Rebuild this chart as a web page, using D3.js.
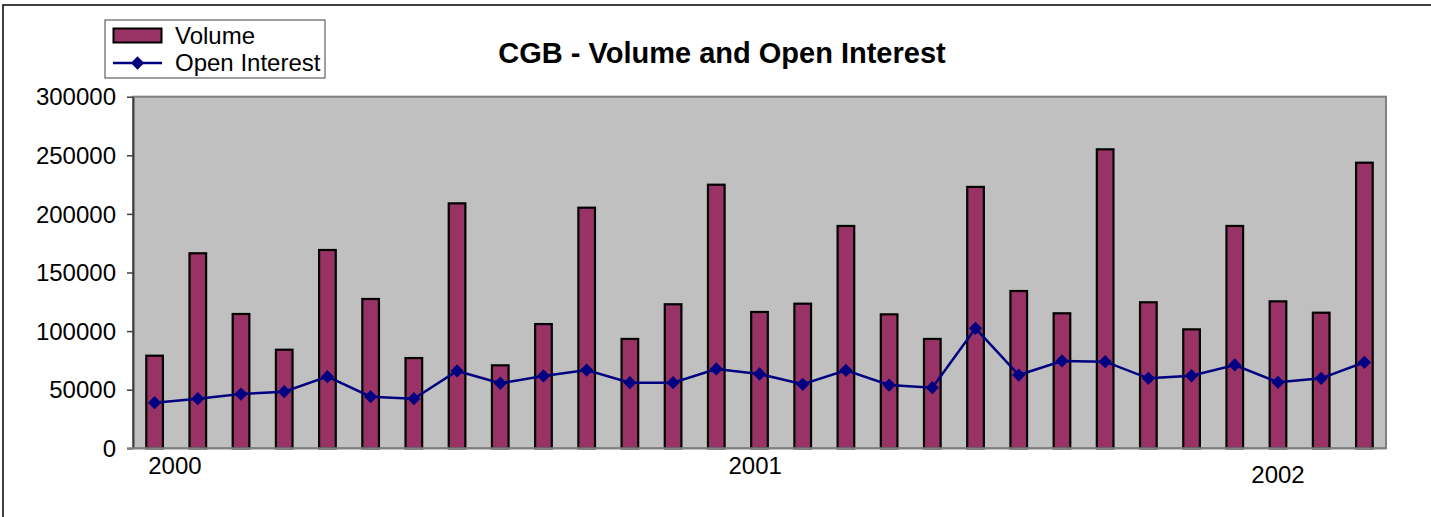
<!DOCTYPE html>
<html>
<head>
<meta charset="utf-8">
<script src="https://cdn.jsdelivr.net/npm/d3@7"></script>
<style>
  html, body { margin: 0; padding: 0; background: #fff; overflow: hidden; }
  svg { display: block; font-family: "Liberation Sans", Arial, sans-serif; }
</style>
</head>
<body>
<svg id="chart" width="1431" height="517"></svg>
<script>
const categories = ["Jan-00","Feb-00","Mar-00","Apr-00","May-00","Jun-00","Jul-00","Aug-00","Sep-00","Oct-00","Nov-00","Dec-00",
  "Jan-01","Feb-01","Mar-01","Apr-01","May-01","Jun-01","Jul-01","Aug-01","Sep-01","Oct-01","Nov-01","Dec-01",
  "Jan-02","Feb-02","Mar-02","Apr-02","May-02"];
const volume = [79000,166400,114600,84100,169200,127400,77000,209000,70800,106000,205300,93300,
  122900,224900,116300,123400,189700,114300,93300,223000,134200,115200,255100,124600,
  101500,189700,125400,115700,243700];
const openInterest = [38900,42300,46300,48300,61100,44000,42300,66000,55500,61700,66800,56000,
  56000,67700,63400,54600,66500,54000,51700,102400,62500,74500,73900,59700,
  61900,71100,56300,59700,73400];
const yTicks = [0,50000,100000,150000,200000,250000,300000];
const yearLabels = ["2000","2001","2002"];
const yearLabelPos = [0.47, 13.9, 26.0];   // category position (fractional index)
const yearLabelRow = [0, 0, 1];            // staggered rows

const svg = d3.select("#chart");
const plot = {left:133, right:1386, top:96.7, bottom:448.3};

const x = d3.scaleBand().domain(categories).range([plot.left, plot.right]).padding(0);
const y = d3.scaleLinear().domain([0,300000]).range([plot.bottom, plot.top]);
const step = x.step();
const barW = step * 0.385;
const cx = d => x(d) + step/2;
const posX = p => plot.left + step*(p+0.5);
const marker = d3.symbol().type(d3.symbolSquare).size(88);

// outer chart border (left and top visible)
svg.append("path").attr("d","M3,517 L3,5 L1431,5").attr("fill","none").attr("stroke","#000").attr("stroke-width",1.5);

// plot area
svg.append("rect").attr("x",plot.left).attr("y",plot.top)
  .attr("width",plot.right-plot.left).attr("height",plot.bottom-plot.top)
  .attr("fill","#c0c0c0").attr("stroke","#808080").attr("stroke-width",2);

// bars
svg.append("g").selectAll("rect").data(categories).join("rect")
  .attr("x", d => cx(d) - barW/2)
  .attr("y", (d,i) => y(volume[i]))
  .attr("width", barW)
  .attr("height", (d,i) => y(0) - y(volume[i]))
  .attr("fill","#993366").attr("stroke","#000").attr("stroke-width",2.2);

// line
const line = d3.line().x((d,i) => cx(categories[i])).y(d => y(d));
svg.append("path").datum(openInterest).attr("d", line)
  .attr("fill","none").attr("stroke","#000080").attr("stroke-width",2.5);

svg.append("g").selectAll("path").data(openInterest).join("path")
  .attr("d", marker)
  .attr("transform",(d,i) => `translate(${cx(categories[i])},${y(d)}) rotate(45)`)
  .attr("fill","#000080");

// y axis
const yAxis = d3.axisLeft(y).tickValues(yTicks).tickSize(6).tickSizeOuter(0).tickPadding(11).tickFormat(d3.format("d"));
const gy = svg.append("g").attr("transform",`translate(${plot.left},0)`).call(yAxis);
gy.select(".domain").attr("stroke","#404040").attr("stroke-width",2);
gy.selectAll(".tick line").attr("stroke","#404040").attr("stroke-width",1.5);
gy.selectAll(".tick text").attr("font-size",24).attr("fill","#000")
  .attr("font-family",'"Liberation Sans", Arial, sans-serif').attr("dy","0.34em");

// x axis baseline
svg.append("line").attr("x1",plot.left-6).attr("x2",plot.right).attr("y1",y(0)).attr("y2",y(0))
  .attr("stroke","#808080").attr("stroke-width",2);

// year labels
svg.append("g").selectAll("text").data(yearLabels).join("text")
  .attr("x",(d,i) => posX(yearLabelPos[i]))
  .attr("y",(d,i) => 474 + yearLabelRow[i]*9)
  .attr("text-anchor","middle").attr("font-size",24).attr("fill","#000")
  .text(d => d);

// title
svg.append("text").attr("x",722).attr("y",63).attr("text-anchor","middle")
  .attr("font-size",29).attr("font-weight","bold").attr("fill","#000")
  .text("CGB - Volume and Open Interest");

// legend
const lg = svg.append("g");
lg.append("rect").attr("x",105).attr("y",20).attr("width",220).attr("height",58)
  .attr("fill","#fff").attr("stroke","#404040").attr("stroke-width",1);
lg.append("rect").attr("x",113.5).attr("y",28.5).attr("width",48).attr("height",14)
  .attr("fill","#993366").attr("stroke","#000").attr("stroke-width",2);
lg.append("text").attr("x",175).attr("y",43.5).attr("font-size",24).attr("fill","#000").text("Volume");
lg.append("line").attr("x1",113).attr("x2",162).attr("y1",63).attr("y2",63)
  .attr("stroke","#000080").attr("stroke-width",2.5);
lg.append("path").attr("d", marker)
  .attr("transform","translate(137.5,63) rotate(45)").attr("fill","#000080");
lg.append("text").attr("x",175).attr("y",71).attr("font-size",24).attr("fill","#000").text("Open Interest");
</script>
</body>
</html>
